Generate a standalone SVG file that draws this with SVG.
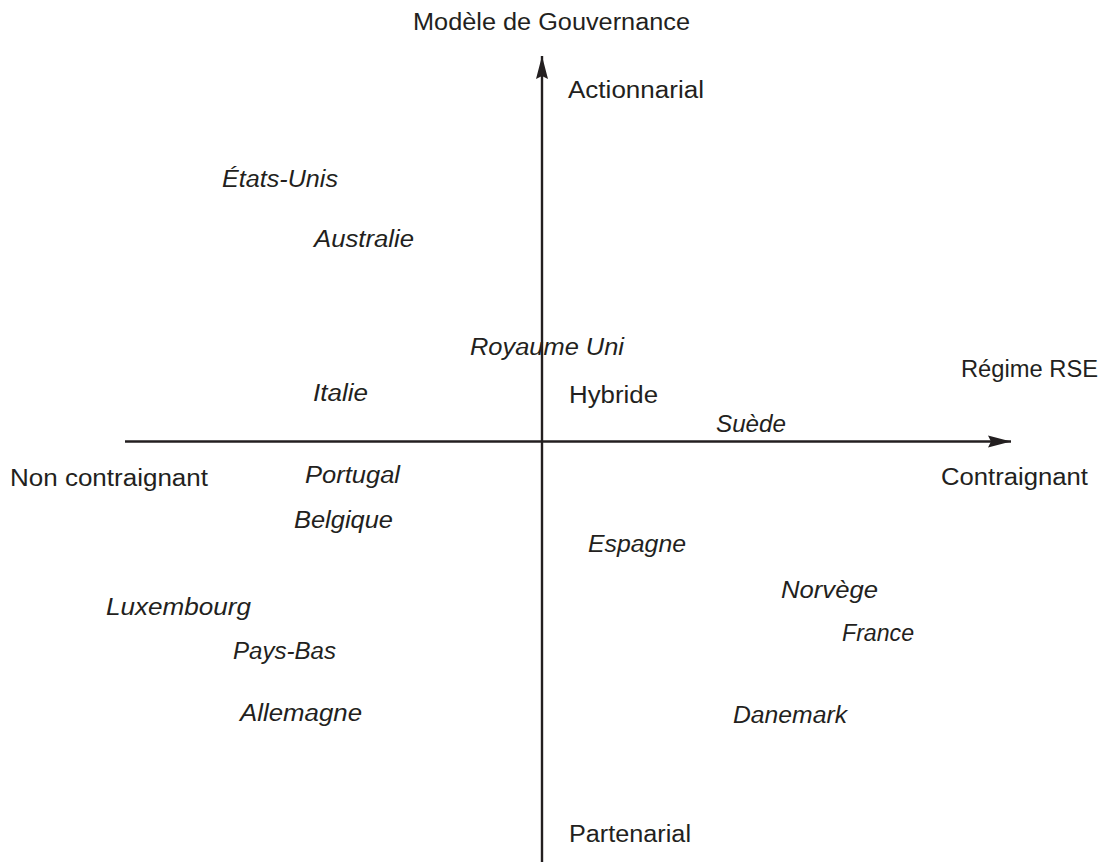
<svg xmlns="http://www.w3.org/2000/svg" width="1107" height="862" viewBox="0 0 1107 862">
  <style>
    text { font-family: "Liberation Sans", Arial, sans-serif; font-size: 23.5px; fill: #231f20; }
    .pays { font-style: italic; }
    .axe { stroke: #231f20; stroke-width: 2.4; fill: none; }
  </style>
  <defs>
    <marker id="fleche" markerUnits="userSpaceOnUse" markerWidth="24" markerHeight="14" refX="23" refY="7" orient="auto">
      <path d="M0,1 L23,7 L0,13 L3,7 Z" fill="#231f20"/>
    </marker>
  </defs>
  <rect width="1107" height="862" fill="#ffffff"/>

  <!-- axes -->
  <g id="axes">
    <line class="axe" x1="542" y1="862" x2="542" y2="56" marker-end="url(#fleche)"/>
    <line class="axe" x1="125" y1="441.5" x2="1011" y2="441.5" marker-end="url(#fleche)"/>
  </g>

  <!-- axis titles and poles -->
  <g id="titre-vertical"><text x="413" y="30" textLength="277" lengthAdjust="spacingAndGlyphs">Modèle de Gouvernance</text></g>
  <g id="pole-actionnarial"><text x="568" y="98" textLength="136" lengthAdjust="spacingAndGlyphs">Actionnarial</text></g>
  <g id="pole-hybride"><text x="569" y="403" textLength="89" lengthAdjust="spacingAndGlyphs">Hybride</text></g>
  <g id="pole-partenarial"><text x="569" y="842" textLength="122" lengthAdjust="spacingAndGlyphs">Partenarial</text></g>
  <g id="titre-horizontal"><text x="961" y="377" textLength="137" lengthAdjust="spacingAndGlyphs">Régime RSE</text></g>
  <g id="pole-contraignant"><text x="941" y="485" textLength="147" lengthAdjust="spacingAndGlyphs">Contraignant</text></g>
  <g id="pole-non-contraignant"><text x="10" y="486" textLength="198" lengthAdjust="spacingAndGlyphs">Non contraignant</text></g>

  <!-- countries -->
  <g id="etats-unis"><text class="pays" x="222" y="187" textLength="116" lengthAdjust="spacingAndGlyphs">États-Unis</text></g>
  <g id="australie"><text class="pays" x="314" y="247" textLength="100" lengthAdjust="spacingAndGlyphs">Australie</text></g>
  <g id="royaume-uni"><text class="pays" x="470" y="355" textLength="154" lengthAdjust="spacingAndGlyphs">Royaume Uni</text></g>
  <g id="italie"><text class="pays" x="313" y="401" textLength="55" lengthAdjust="spacingAndGlyphs">Italie</text></g>
  <g id="suede"><text class="pays" x="716" y="432" textLength="70" lengthAdjust="spacingAndGlyphs">Suède</text></g>
  <g id="portugal"><text class="pays" x="305" y="483" textLength="95" lengthAdjust="spacingAndGlyphs">Portugal</text></g>
  <g id="belgique"><text class="pays" x="294" y="528" textLength="99" lengthAdjust="spacingAndGlyphs">Belgique</text></g>
  <g id="espagne"><text class="pays" x="588" y="552" textLength="98" lengthAdjust="spacingAndGlyphs">Espagne</text></g>
  <g id="norvege"><text class="pays" x="781" y="598" textLength="97" lengthAdjust="spacingAndGlyphs">Norvège</text></g>
  <g id="luxembourg"><text class="pays" x="106" y="615" textLength="145" lengthAdjust="spacingAndGlyphs">Luxembourg</text></g>
  <g id="france"><text class="pays" x="842" y="641" textLength="72" lengthAdjust="spacingAndGlyphs">France</text></g>
  <g id="pays-bas"><text class="pays" x="233" y="659" textLength="103" lengthAdjust="spacingAndGlyphs">Pays-Bas</text></g>
  <g id="allemagne"><text class="pays" x="240" y="721" textLength="122" lengthAdjust="spacingAndGlyphs">Allemagne</text></g>
  <g id="danemark"><text class="pays" x="733" y="723" textLength="114" lengthAdjust="spacingAndGlyphs">Danemark</text></g>
</svg>
